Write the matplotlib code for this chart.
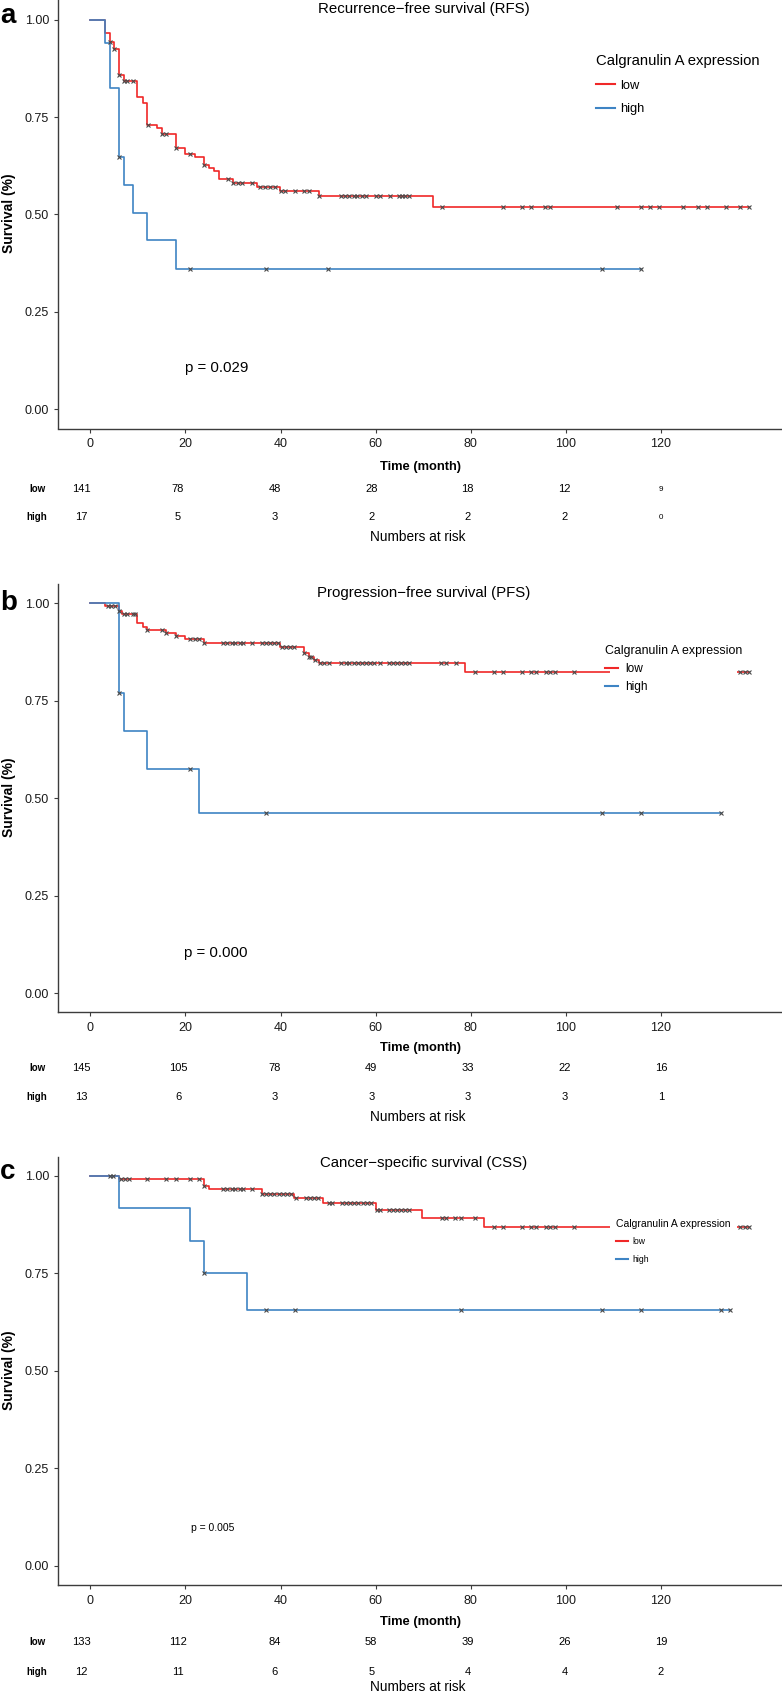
import numpy as np
import matplotlib
matplotlib.use('Agg')
import matplotlib.pyplot as plt
from matplotlib.lines import Line2D
from matplotlib.patches import Rectangle
from matplotlib.transforms import blended_transform_factory

plt.rcParams['font.family'] = ['Liberation Sans', 'DejaVu Sans']

RED = '#F02828'
BLUE = '#3E84C4'
CENS = '#4a4a4a'
AXC = '#3c3c3c'

# ---- data (time in months, survival after each drop) ----
rfs_low_t = [3.1, 4.1, 4.9, 6.0, 7.1, 9.9, 11.0, 12.0, 14.0, 15.0, 18.0, 19.9, 22.0,
             24.0, 25.0, 26.0, 27.1, 29.9, 35.0, 39.9, 48.0, 72.0]
rfs_low_s = [0.966, 0.944, 0.926, 0.859, 0.844, 0.801, 0.786, 0.731, 0.722, 0.707, 0.672,
             0.656, 0.648, 0.628, 0.619, 0.611, 0.591, 0.582, 0.571, 0.561, 0.547, 0.519]
rfs_low_cens = [4.1, 5.0, 6.0, 7.1, 7.8, 8.9, 12.1, 15.0, 16.0, 18.0, 21.0, 24.0, 29.0,
                30.1, 31.0, 32.0, 34.1, 35.7, 36.8, 37.8, 38.9, 40.1, 41.0, 43.0, 45.0,
                46.0, 48.0, 52.8, 53.6, 54.5, 55.4, 56.2, 57.2, 58.0, 60.0, 61.0, 63.0,
                64.9, 65.6, 66.3, 67.0, 73.9, 86.9, 90.9, 92.8, 95.6, 96.8, 110.8, 115.8,
                117.8, 119.7, 124.7, 127.8, 129.7, 133.7, 136.7, 138.6]
rfs_high_t = [3.1, 4.1, 6.0, 7.1, 9.0, 12.0, 18.0]
rfs_high_s = [0.942, 0.824, 0.649, 0.577, 0.504, 0.434, 0.360]
rfs_high_cens = [6.0, 21.0, 37.0, 50.0, 107.7, 115.8]

pfs_low_t = [3.1, 6.0, 6.6, 9.9, 11.0, 12.0, 15.8, 18.0, 19.9, 23.9, 39.9, 44.9, 45.9,
             47.0, 48.0, 78.8]
pfs_low_s = [0.994, 0.980, 0.973, 0.949, 0.940, 0.932, 0.925, 0.916, 0.908, 0.899, 0.887,
             0.874, 0.863, 0.856, 0.848, 0.824]
pfs_low_cens = [3.7, 4.3, 5.2, 6.0, 7.1, 7.8, 8.9, 9.4, 12.0, 15.0, 16.0, 18.0, 21.0,
                22.0, 22.9, 24.0, 28.0, 28.8, 29.7, 30.5, 31.4, 32.2, 33.9, 36.1, 36.9,
                37.8, 38.7, 39.4, 40.3, 41.1, 42.0, 42.9, 44.9, 45.9, 46.5, 47.3, 48.3,
                49.2, 50.1, 52.8, 53.7, 54.5, 55.4, 56.3, 57.1, 58.0, 58.9, 59.7, 61.0,
                62.8, 63.6, 64.5, 65.4, 66.3, 67.0, 73.8, 74.8, 77.0, 80.9, 84.9, 86.9,
                90.9, 92.8, 93.7, 95.9, 96.8, 97.7, 101.7, 136.7, 137.8, 138.6]
pfs_high_t = [6.0, 7.1, 12.0, 22.9]
pfs_high_s = [0.769, 0.672, 0.576, 0.461]
pfs_high_cens = [6.0, 21.0, 37.0, 107.7, 115.8, 132.7]

css_low_t = [6.0, 24.0, 25.0, 36.0, 42.9, 48.9, 60.0, 69.8, 82.8]
css_low_s = [0.992, 0.974, 0.966, 0.955, 0.943, 0.930, 0.914, 0.893, 0.870]
css_low_cens = [4.1, 4.8, 6.4, 7.3, 8.2, 12.0, 16.0, 18.0, 21.0, 22.9, 24.0, 28.0, 28.8,
                29.7, 30.5, 31.4, 32.2, 33.9, 36.1, 36.9, 37.8, 38.7, 39.6, 40.5, 41.4,
                42.3, 43.2, 45.3, 46.2, 47.0, 47.9, 50.1, 50.9, 52.9, 53.8, 54.6, 55.5,
                56.4, 57.3, 58.2, 59.1, 60.2, 61.0, 62.8, 63.6, 64.5, 65.4, 66.3, 67.0,
                73.9, 74.9, 76.8, 77.9, 80.9, 84.9, 86.9, 90.9, 92.8, 93.7, 95.9, 96.8,
                97.7, 101.7, 136.7, 137.8, 138.6]
css_high_t = [6.0, 21.0, 24.0, 32.9]
css_high_s = [0.917, 0.833, 0.750, 0.656]
css_high_cens = [24.0, 37.0, 43.0, 77.9, 107.7, 115.8, 132.7, 134.6]

risk_times = [0, 20, 40, 60, 80, 100, 120]
rfs_risk_low = [141, 78, 48, 28, 18, 12, 9]
rfs_risk_high = [17, 5, 3, 2, 2, 2, 0]
pfs_risk_low = [145, 105, 78, 49, 33, 22, 16]
pfs_risk_high = [13, 6, 3, 3, 3, 3, 1]
css_risk_low = [133, 112, 84, 58, 39, 26, 19]
css_risk_high = [12, 11, 6, 5, 4, 4, 2]

titles = ['Recurrence\u2212free survival (RFS)', 'Progression\u2212free survival (PFS)',
          'Cancer\u2212specific survival (CSS)']
pvals = ['p = 0.029', 'p = 0.000', 'p = 0.005']
letters = ['a', 'b', 'c']

W, H = 782, 1693
fig = plt.figure(figsize=(W / 100, H / 100), dpi=100)


def fx(px):
    return px / W


def fy(py):
    return 1 - py / H


def step_xy(t, s, cens):
    end = max(max(t), max(cens))
    return np.r_[0, t, end], np.r_[1, s, s[-1]]


def surv_at(t, s, q):
    idx = np.searchsorted(t, q, side='right')
    return np.r_[1, s][idx]


tmax = max(max(rfs_low_cens), max(pfs_low_cens), max(css_low_cens))

# layout of each panel in pixels
layout = [
    dict(top=0.5, bot=428.5, title_y=12.7, let_y=22.7, low_y=489.3, high_y=517.3,
         time_y=466.7, nar_y=536.7, p_fs=10.8, p_xy=(26.6, 0.105),
         leg=dict(x=596, top=54, fs=9.3, tfs=10.7, hl=1.47, htp=0.39, ls=0.9), cover=None,
         small_last=True),
    dict(top=584, bot=1012.5, title_y=597, let_y=610, low_y=1068.3, high_y=1097.3,
         time_y=1048.3, nar_y=1116.7, p_fs=10.8, p_xy=(26.3, 0.103),
         leg=dict(x=604.7, top=645, fs=8.6, tfs=8.9, hl=1.09, htp=0.65, ls=0.5),
         cover=(610, 640, 736.7, 693), small_last=False),
    dict(top=1156.5, bot=1585.2, title_y=1167, let_y=1179, low_y=1641.7, high_y=1671.7,
         time_y=1621.7, nar_y=1687.3, p_fs=7.5, p_xy=(25.8, 0.0975),
         leg=dict(x=616, top=1219, fs=6.2, tfs=7.5, hl=1.44, htp=0.42, ls=0.96),
         cover=(610, 1215, 736.7, 1265), small_last=False),
]

series = [
    ((rfs_low_t, rfs_low_s, rfs_low_cens), (rfs_high_t, rfs_high_s, rfs_high_cens),
     rfs_risk_low, rfs_risk_high),
    ((pfs_low_t, pfs_low_s, pfs_low_cens), (pfs_high_t, pfs_high_s, pfs_high_cens),
     pfs_risk_low, pfs_risk_high),
    ((css_low_t, css_low_s, css_low_cens), (css_high_t, css_high_s, css_high_cens),
     css_risk_low, css_risk_high),
]

left_px, right_px = 57.5, 782
for i, (lo, (low, high, rl, rh)) in enumerate(zip(layout, series)):
    ax = fig.add_axes([fx(left_px), fy(lo['bot']), fx(right_px) - fx(left_px),
                       (lo['bot'] - lo['top']) / H])
    for (t, s, c), col in [(low, RED), (high, BLUE)]:
        x, y = step_xy(t, s, c)
        ax.step(x, y, where='post', color=col, lw=1.2, zorder=2)
    for (t, s, c) in [low, high]:
        ax.plot(c, surv_at(t, s, c), 'x', color=CENS, ms=3.2, mew=0.8, zorder=3)

    ax.set_xlim(-0.05 * tmax, 1.05 * tmax)
    ax.set_ylim(-0.05, 1.05)
    ax.set_xticks(risk_times)
    ax.set_yticks([0, 0.25, 0.5, 0.75, 1.0])
    ax.set_yticklabels(['0.00', '0.25', '0.50', '0.75', '1.00'])
    for sp in ['top', 'right']:
        ax.spines[sp].set_visible(False)
    for sp in ['left', 'bottom']:
        ax.spines[sp].set_color(AXC)
        ax.spines[sp].set_linewidth(1.0)
    ax.tick_params(length=3, width=0.8, color=AXC, labelsize=9, labelcolor='#1a1a1a')
    ax.tick_params(axis='x', pad=4)
    ax.tick_params(axis='y', pad=3)

    fig.text(fx(424), fy(lo['title_y']), titles[i], ha='center', va='baseline',
             fontsize=10.8)
    fig.text(0, fy(lo['let_y']), letters[i], ha='left', va='baseline', fontsize=20,
             fontweight='bold')
    fig.text(fx(9.3), fy((lo['top'] + lo['bot']) / 2 - 1), 'Survival (%)', rotation=90,
             ha='center', va='center', fontsize=10, fontweight='bold')
    ax.text(lo['p_xy'][0], lo['p_xy'][1], pvals[i], ha='center', va='center',
            fontsize=lo['p_fs'])

    if lo['cover'] is not None:
        x0, y0, x1, y1 = lo['cover']
        ax.add_patch(Rectangle((fx(x0), fy(y1)), fx(x1) - fx(x0), (y1 - y0) / H,
                               transform=fig.transFigure, facecolor='white',
                               edgecolor='none', zorder=4))
    lg = lo['leg']
    leg = ax.legend(handles=[Line2D([], [], color=RED, lw=1.5),
                             Line2D([], [], color=BLUE, lw=1.5)],
                    labels=['low', 'high'], title='Calgranulin A expression',
                    loc='upper left', bbox_to_anchor=(fx(lg['x']), fy(lg['top'])),
                    bbox_transform=fig.transFigure, frameon=False, borderpad=0,
                    borderaxespad=0, fontsize=lg['fs'], title_fontsize=lg['tfs'],
                    handlelength=lg['hl'], handletextpad=lg['htp'],
                    labelspacing=lg['ls'], alignment='left')
    leg.set_zorder(5)

    # axis title and numbers at risk
    fig.text(fx(420), fy(lo['time_y']), 'Time (month)', ha='center', va='center',
             fontsize=9.3, fontweight='bold')
    rax = fig.add_axes([fx(left_px), fy(lo['nar_y']), fx(right_px) - fx(left_px), 0.001])
    rax.set_xlim(-4.97, 145.06)
    rax.axis('off')
    tr = blended_transform_factory(rax.transData, fig.transFigure)
    for k, (t, a, b) in enumerate(zip(risk_times, rl, rh)):
        fs = 5.8 if (lo['small_last'] and k == len(risk_times) - 1) else 8
        rax.text(t, fy(lo['low_y']), str(a), transform=tr, ha='center', va='center',
                 fontsize=fs)
        rax.text(t, fy(lo['high_y']), str(b), transform=tr, ha='center', va='center',
                 fontsize=fs)
    fig.text(fx(37), fy(lo['low_y']), 'low', ha='center', va='center', fontsize=7,
             fontweight='bold')
    fig.text(fx(37), fy(lo['high_y']), 'high', ha='center', va='center', fontsize=7,
             fontweight='bold')
    fig.text(fx(418), fy(lo['nar_y']), 'Numbers at risk', ha='center', va='center',
             fontsize=9.8)

fig.savefig('out.png', dpi=100)
